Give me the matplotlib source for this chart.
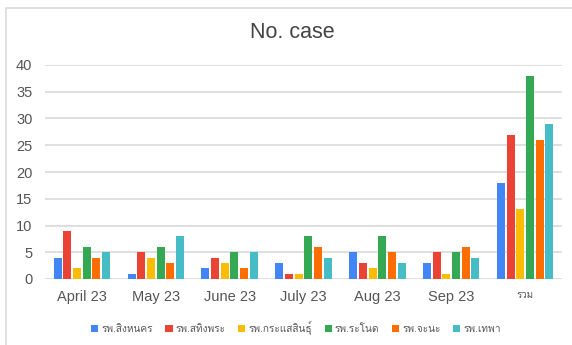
import matplotlib
matplotlib.use("Agg")
import matplotlib.pyplot as plt
from matplotlib import font_manager
from matplotlib.patches import Rectangle
from fontTools.ttLib import TTFont
import numpy as np

categories = ["April 23", "May 23", "June 23", "July 23", "Aug 23", "Sep 23", "รวม"]
hospitals = ["รพ.สิงหนคร", "รพ.สทิงพระ", "รพ.กระแสสินธุ์", "รพ.ระโนด", "รพ.จะนะ", "รพ.เทพา"]
singhanakhon = [4, 1, 2, 3, 5, 3, 18]
sathingphra = [9, 5, 4, 1, 3, 5, 27]
krasaesin = [2, 4, 3, 1, 2, 1, 13]
ranot = [6, 6, 5, 8, 8, 5, 38]
chana = [4, 3, 2, 6, 5, 6, 26]
thepha = [5, 8, 5, 4, 3, 4, 29]
series = [singhanakhon, sathingphra, krasaesin, ranot, chana, thepha]
colors = ["#4285F4", "#EA4335", "#FBBC04", "#34A853", "#FF6D01", "#46BDC6"]
yticks = [0, 5, 10, 15, 20, 25, 30, 35, 40]


def thai_families():
    """Installed font families that cover the Thai block."""
    found = []
    for fe in font_manager.fontManager.ttflist:
        if fe.name in found:
            continue
        try:
            tt = TTFont(fe.fname, fontNumber=0, lazy=True)
            cmap = tt.getBestCmap() or {}
            if all(ord(ch) in cmap for ch in "รพสิงหนค"):
                found.append(fe.name)
        except Exception:
            pass
    return found


families = ["Liberation Sans"] + thai_families() + ["DejaVu Sans"]
plt.rcParams["font.family"] = families

W, H = 572, 345
fig = plt.figure(figsize=(W / 100, H / 100), dpi=100)

# outer card border (left and top edges visible)
fig.patches.append(Rectangle((6 / W, -0.1), 1.2, 1 - 8 / H + 0.1,
                             transform=fig.transFigure, fill=False,
                             edgecolor="#d9d9d9", linewidth=1.2))

ax = fig.add_axes([45 / W, 1 - 279 / H, (562 - 45) / W, (279 - 65) / H])

x = np.arange(len(categories))
bw = 0.108
step = 0.131
for i, (vals, c, name) in enumerate(zip(series, colors, hospitals)):
    offs = (i - 2.5) * step
    ax.bar(x + offs, vals, width=bw, color=c, label=name, zorder=3)

ax.set_xlim(-0.5, len(categories) - 0.5)
ax.set_ylim(0, 40)
ax.set_yticks(yticks)
ax.yaxis.grid(True, color="#dcdcdc", linewidth=1.3, zorder=0)
ax.set_axisbelow(True)
for s in ax.spines.values():
    s.set_visible(False)
ax.tick_params(axis="both", length=0, colors="#555555", labelsize=10.5)
ax.tick_params(axis="y", pad=9)
ax.tick_params(axis="x", pad=8)
ax.set_xticks(x)
ax.set_xticklabels(categories)
for lbl in ax.get_xticklabels():
    if lbl.get_text() == "รวม":
        lbl.set_fontsize(7)
for lbl in ax.get_yticklabels():
    lbl.set_horizontalalignment("right")

fig.text(292 / W, 1 - 33 / H, "No. case", ha="center", va="center",
         fontsize=15.5, color="#444444")

leg = fig.legend(loc="center", bbox_to_anchor=(296 / W, 1 - 328 / H), ncol=6,
                 frameon=False, fontsize=7.3, handlelength=0.7, handleheight=0.7,
                 handletextpad=0.3, columnspacing=1.25)
for t in leg.get_texts():
    t.set_color("#555555")

fig.savefig("out.png", dpi=100)
